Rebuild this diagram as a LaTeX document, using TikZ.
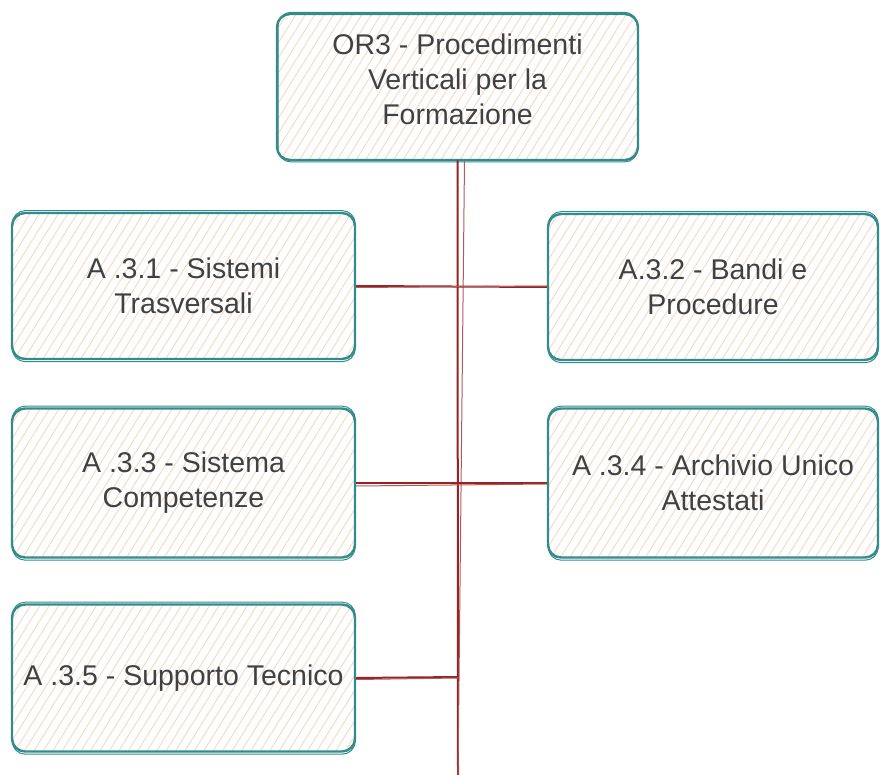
\documentclass[tikz,border=0pt]{standalone}
\usepackage{fontspec}
\setmainfont{Liberation Sans}
\usetikzlibrary{patterns.meta}
\definecolor{boxline}{RGB}{50,140,140}
\definecolor{hatch}{RGB}{246,220,200}
\definecolor{conn}{RGB}{150,35,35}
\definecolor{txt}{RGB}{65,65,65}
\tikzset{
  box/.style={draw=boxline, line width=2.4pt, rounded corners=13pt,
    preaction={fill=white},
    pattern={Lines[angle=58,distance=8pt,line width=1pt]}, pattern color=hatch,
    align=center, text=txt, font=\fontsize{28.5}{35}\selectfont, inner sep=0pt},
  sk/.style={draw=boxline, line width=1pt, rounded corners=13pt},
  link/.style={draw=conn, line width=2pt},
  link2/.style={draw=conn!75, line width=1pt}
}
\begin{document}
\begin{tikzpicture}[x=1pt,y=-1pt]
\useasboundingbox (0,0) rectangle (880,775);
% nodes
\node[box, minimum width=361pt, minimum height=146pt] (or3) at (457.5,87)
  {OR3 - Procedimenti\\Verticali per la\\Formazione\\[-20pt]\mbox{}};
\node[box, minimum width=343pt, minimum height=146pt] (a31) at (183.5,286)
  {A .3.1 - Sistemi\\Trasversali};
\node[box, minimum width=330pt, minimum height=146pt] (a32) at (713,287)
  {A.3.2 - Bandi e\\Procedure};
\node[box, minimum width=343pt, minimum height=149pt] (a33) at (183.5,483)
  {A .3.3 - Sistema\\Competenze};
\node[box, minimum width=330pt, minimum height=149pt] (a34) at (713,483)
  {A .3.4 - Archivio Unico\\Attestati};
\node[box, minimum width=343pt, minimum height=147pt] (a35) at (183.5,678)
  {A .3.5 - Supporto Tecnico};
% sketchy second outlines
\foreach \n in {or3,a31,a32,a33,a34,a35}{
  \draw[sk] ([shift={(1.5pt,1.2pt)}]\n.north west) rectangle ([shift={(-1pt,-1.5pt)}]\n.south east);
}
% connectors
\coordinate (bot) at (458,775);
\coordinate (j5) at (458,677);
\draw[link] (or3.south) -- (bot);
\draw[link2] ([xshift=7pt]or3.south) -- (bot);
\draw[link] (a31.east) -- (a32.west);
\draw[link2] ([yshift=-1.5pt]a31.east) -- ([yshift=1pt]a32.west);
\draw[link] (a33.east) -- (a34.west);
\draw[link2] ([yshift=-3pt]a33.east) -- ([yshift=-1pt]a34.west);
\draw[link] (a35.east) -- (j5);
\draw[link2] ([yshift=-1.5pt]a35.east) -- ([yshift=-1pt]j5);
\end{tikzpicture}
\end{document}
